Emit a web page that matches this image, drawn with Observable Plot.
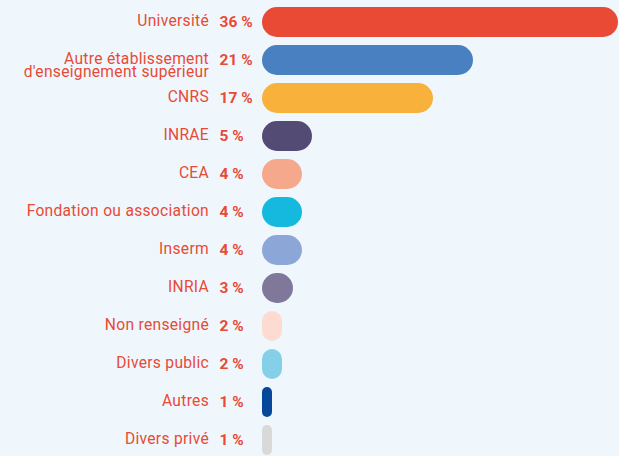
<!DOCTYPE html>
<html>
<head>
<meta charset="utf-8">
<script src="https://cdn.jsdelivr.net/npm/d3@7"></script>
<script src="https://cdn.jsdelivr.net/npm/@observablehq/plot@0.6"></script>
<style>
  html, body { margin: 0; padding: 0; background: #eff7fd; overflow: hidden; }
  #chart svg { display: block; }
</style>
</head>
<body>
<div id="chart"></div>
<script>
const categories = [
  "Université",
  "Autre établissement\nd'enseignement supérieur",
  "CNRS",
  "INRAE",
  "CEA",
  "Fondation ou association",
  "Inserm",
  "INRIA",
  "Non renseigné",
  "Divers public",
  "Autres",
  "Divers privé"
];
const values = [35.6, 21.1, 17.1, 5, 4, 4, 4, 3.1, 2, 2, 1, 1];
const percentLabels = ["36 %", "21 %", "17 %", "5 %", "4 %", "4 %", "4 %", "3 %", "2 %", "2 %", "1 %", "1 %"];
const colors = [
  "#e84a35", "#4880c2", "#f8b13a", "#544b74", "#f5a88c", "#14b9dd",
  "#8ca6d8", "#80789b", "#fddbd0", "#85cfe9", "#06499a", "#d9d9d9"
];

const data = categories.map((name, i) => ({name, value: values[i], pct: percentLabels[i]}));
const fs = 15.6;
const textColor = "#e84a35";

const chart = Plot.plot({
  width: 619,
  height: 456,
  margin: 0,
  style: {background: "transparent", fontFamily: "Roboto, sans-serif"},
  x: {domain: [0, 36], range: [262, 622], axis: null},
  y: {domain: categories, range: [1.35, 461], padding: 0, axis: null},
  color: {domain: categories, range: colors},
  marks: [
    Plot.barX(data, {x: "value", y: "name", fill: "name", insetTop: 4, insetBottom: 4}),
    Plot.text(data, {
      x: 0, y: "name", text: "name", textAnchor: "end", dx: -53.5,
      lineAnchor: "top", dy: -0.39 * fs, lineHeight: 0.86,
      fill: textColor, fontSize: fs, className: "names"
    }),
    Plot.text(data, {
      x: 0, y: "name", text: "pct", textAnchor: "start", dx: -43,
      fill: textColor, fontSize: 15.5, fontWeight: "bold"
    })
  ]
});

d3.select(chart).selectAll("g[aria-label=bar] rect").each(function() {
  const w = +this.getAttribute("width");
  const h = +this.getAttribute("height");
  const r = Math.min(w, h) / 2;
  this.setAttribute("rx", r);
  this.setAttribute("ry", r);
});
d3.select(chart).selectAll("g.names").style("letter-spacing", "0.3px");

document.getElementById("chart").appendChild(chart);
</script>
</body>
</html>
